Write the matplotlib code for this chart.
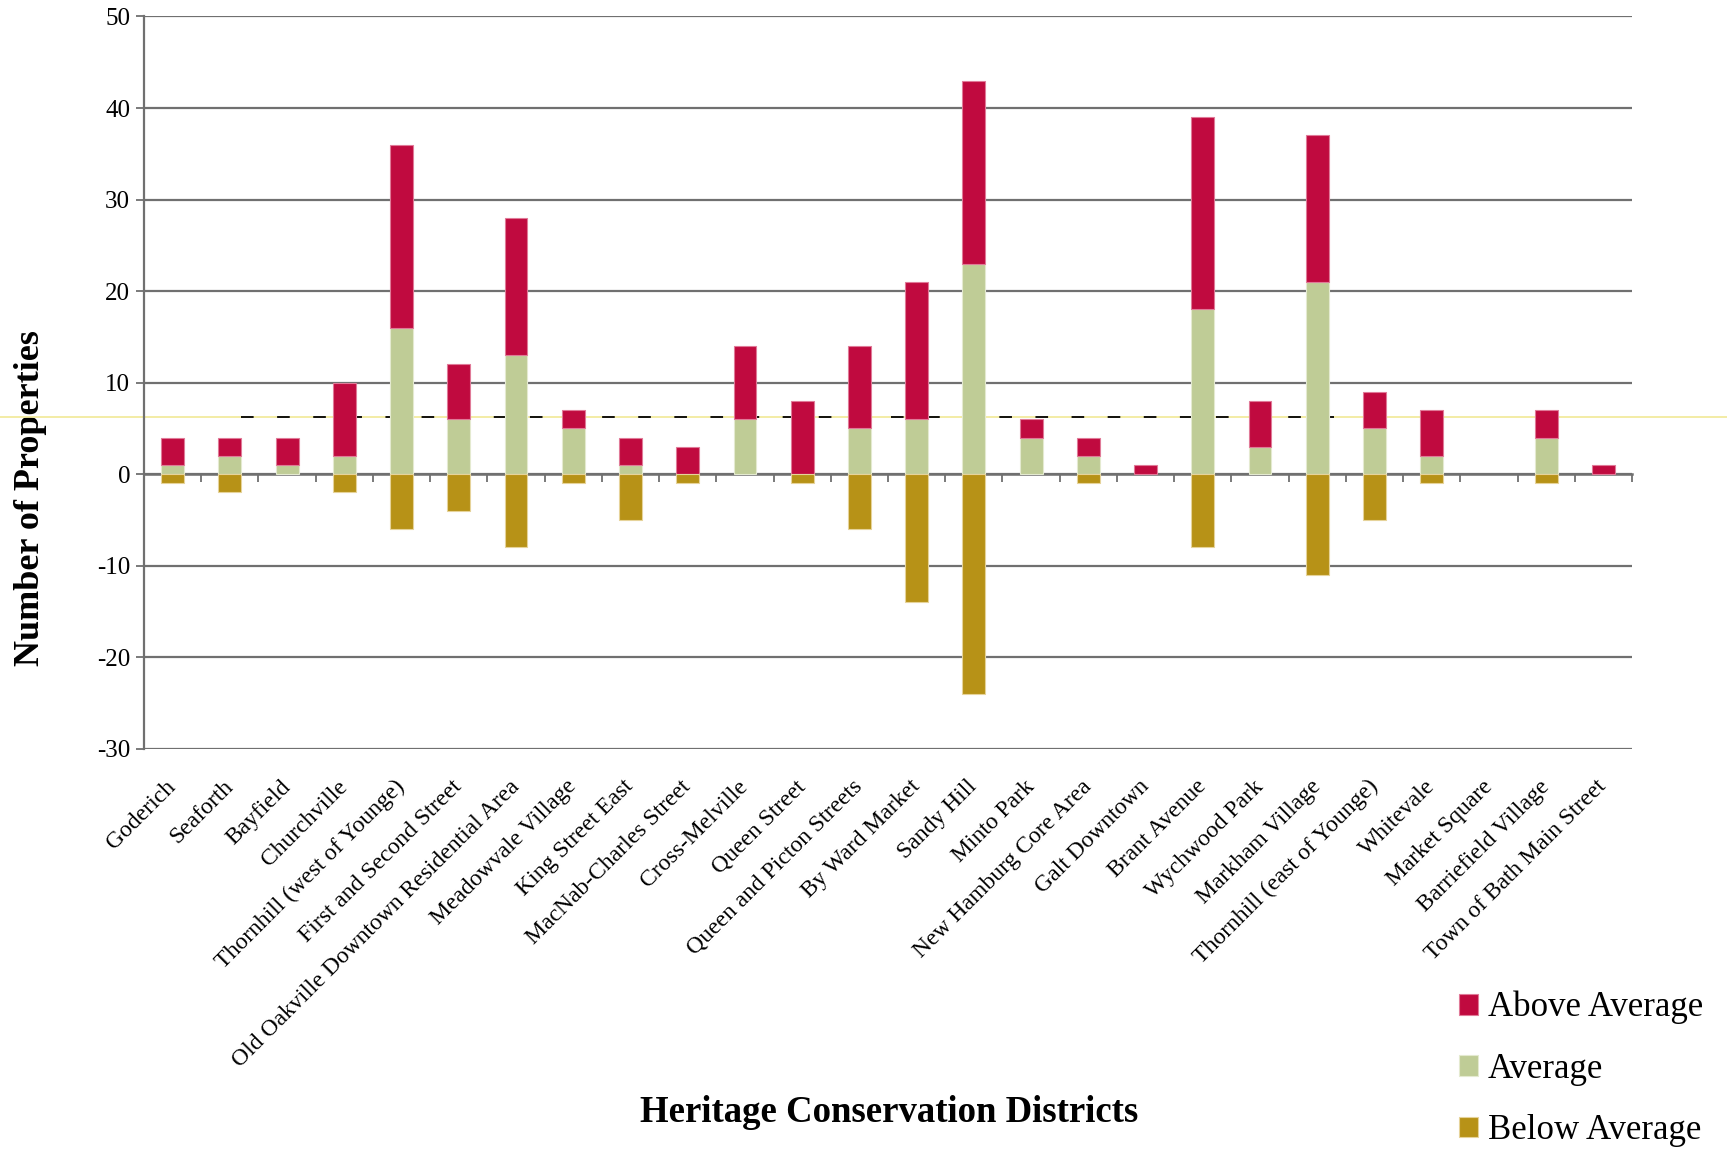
import numpy as np
import matplotlib
matplotlib.use("Agg")
import matplotlib.pyplot as plt
import matplotlib.transforms as mtransforms

districts = [
    "Goderich", "Seaforth", "Bayfield", "Churchville",
    "Thornhill (west of Younge)", "First and Second Street",
    "Old Oakville Downtown Residential Area", "Meadowvale Village",
    "King Street East", "MacNab-Charles Street", "Cross-Melville",
    "Queen Street", "Queen and Picton Streets", "By Ward Market",
    "Sandy Hill", "Minto Park", "New Hamburg Core Area", "Galt Downtown",
    "Brant Avenue", "Wychwood Park", "Markham Village",
    "Thornhill (east of Younge)", "Whitevale", "Market Square",
    "Barriefield Village", "Town of Bath Main Street",
]
average = [1, 2, 1, 2, 16, 6, 13, 5, 1, 0, 6, 0, 5, 6, 23, 4, 2, 0, 18, 3, 21, 5, 2, 0, 4, 0]
above_average = [3, 2, 3, 8, 20, 6, 15, 2, 3, 3, 8, 8, 9, 15, 20, 2, 2, 1, 21, 5, 16, 4, 5, 0, 3, 1]
below_average = [-1, -2, 0, -2, -6, -4, -8, -1, -5, -1, 0, -1, -6, -14, -24, 0, -1, 0, -8, 0, -11, -5, -1, 0, -1, 0]

# stray reference line visible in the source image
ref_level = 6.3
ref_span = (1.2, 20.3)

RED = "#C00A3F"
GREEN = "#BFCC96"
GOLD = "#B79217"
GRID = "#707070"

plt.rcParams["font.family"] = ["Liberation Serif", "DejaVu Serif"]
plt.rcParams["axes.unicode_minus"] = False


def hide_zero(values):
    # zero-height bars would leave a stray edge line
    arr = np.array(values, dtype=float)
    return np.where(arr == 0, np.nan, arr)


fig = plt.figure(figsize=(17.27, 11.52), dpi=100)
ax = fig.add_axes([0.0834, 0.350, 0.8616, 0.6357])

x = np.arange(len(districts))
w = 0.4
ax.bar(x, hide_zero(average), w, color=GREEN, edgecolor="#E4EAD0", linewidth=0.8, label="Average", zorder=2)
ax.bar(x, hide_zero(above_average), w, bottom=average, color=RED, edgecolor="#E07A98", linewidth=0.8,
       label="Above Average", zorder=2)
ax.bar(x, hide_zero(below_average), w, color=GOLD, edgecolor="#E6D39A", linewidth=0.8,
       label="Below Average", zorder=2)

trans = mtransforms.blended_transform_factory(fig.transFigure, ax.transData)
ax.plot([0, 1], [ref_level, ref_level], transform=trans, color="#F2EA9E", lw=1.3, zorder=0.8, clip_on=False)
ax.plot(ref_span, [ref_level, ref_level], color="black", lw=1.3, dashes=(7, 13), zorder=1)

ax.set_xlim(-0.5, len(districts) - 0.5)
ax.set_ylim(-30, 50)
ax.set_yticks(np.arange(-30, 51, 10))
ax.yaxis.grid(True, color=GRID, lw=1.6, zorder=0.5)
ax.set_axisbelow(True)
for s in ["top", "right", "bottom"]:
    ax.spines[s].set_visible(False)
ax.spines["left"].set_color(GRID)
ax.spines["left"].set_linewidth(1.6)
ax.tick_params(axis="y", direction="out", length=6, width=1.3, color=GRID, labelsize=18, pad=4)

ax.set_xticks(x)
ax.set_xticklabels(districts, rotation=45, ha="right", va="center", rotation_mode="anchor", fontsize=17)
ax.tick_params(axis="x", length=0, pad=25)

# axis line through zero with tick marks between categories
zero_ax = ax.secondary_xaxis(30 / 80)
zero_ax.set_xticks(np.arange(-0.5, len(districts), 1))
zero_ax.set_xticklabels([])
zero_ax.tick_params(direction="out", length=6, width=1.3, color=GRID)
zero_ax.spines["bottom"].set_color(GRID)
zero_ax.spines["bottom"].set_linewidth(1.8)

ax.set_ylabel("Number of Properties", fontsize=26, fontweight="bold")
ax.yaxis.set_label_coords(-0.065, 0.343)
fig.text(0.515, 0.0347, "Heritage Conservation Districts", fontsize=26.5, fontweight="bold",
         ha="center", va="center")

handles, labels = ax.get_legend_handles_labels()
order = [1, 0, 2]
fig.legend([handles[i] for i in order], [labels[i] for i in order],
           loc="center left", bbox_to_anchor=(0.8345, 0.072), frameon=False, fontsize=25,
           handlelength=0.55, handleheight=0.55, handletextpad=0.3, labelspacing=0.82, borderpad=0)

fig.savefig("out.png", dpi=100)
